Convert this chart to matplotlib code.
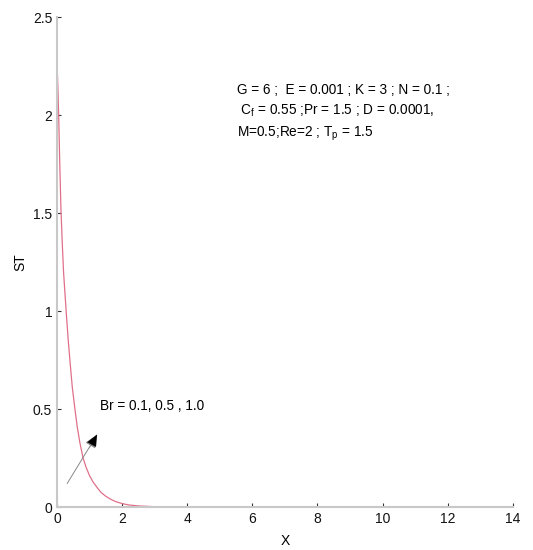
import matplotlib
matplotlib.use("Agg")
import matplotlib.pyplot as plt

plt.rcParams['font.family'] = ['Liberation Sans', 'DejaVu Sans']

x_vals = [0, 0.03, 0.05, 0.08, 0.12, 0.16, 0.2, 0.24, 0.28, 0.34, 0.4, 0.47, 0.55, 0.62, 0.7,
          0.8, 0.9, 1.0, 1.1, 1.23, 1.35, 1.5, 1.65, 1.8, 2.0, 2.2, 2.5, 3.0, 3.5, 4.0, 5.0,
          6.0, 8.0, 10.0, 12.0, 12.8]
st_vals = [2.27, 2.12, 2.0, 1.78, 1.52, 1.35, 1.2, 1.1, 1.0, 0.86, 0.74, 0.61, 0.5, 0.41, 0.33,
           0.25, 0.2, 0.16, 0.13, 0.1, 0.075, 0.055, 0.04, 0.028, 0.018, 0.011, 0.006, 0.002, 0.0008, 0.0003, 0,
           0, 0, 0, 0, 0]
xticks = [0, 2, 4, 6, 8, 10, 12, 14]
yticks = [0, 0.5, 1, 1.5, 2, 2.5]
ytick_labels = ['0', '0.5', '1', '1.5', '2', '2.5']

fig = plt.figure(figsize=(5.33, 5.5), dpi=100)
ax = fig.add_axes([0.107, 0.078, 0.855, 0.891])
ax.plot(x_vals, st_vals, color='#e0708a', lw=0.9)
ax.set_xlim(0, 14)
ax.set_ylim(0, 2.5)
ax.set_xticks(xticks)
ax.set_yticks(yticks)
ax.set_yticklabels(ytick_labels)
for s in ['top', 'right']:
    ax.spines[s].set_visible(False)
for s in ['left', 'bottom']:
    ax.spines[s].set_color('#c8c8c8')
    ax.spines[s].set_linewidth(1.5)
ax.tick_params(direction='in', length=3, width=0.8, color='#333333', labelsize=10, labelcolor='#111111')
ax.set_xlabel('X', fontsize=10, labelpad=6)
ax.set_ylabel('ST', fontsize=10, labelpad=4)

ax.text(5.53, 2.01, 'G = 6 ;  E = 0.001 ; K = 3 ; N = 0.1 ;\n'
        r' C$_\mathregular{f}$ = 0.55 ;Pr = 1.5 ; D = 0.0001,' '\n'
        r'M=0.5;Re=2 ; T$_\mathregular{p}$ = 1.5',
        fontsize=9.8, va='center', ha='left', linespacing=1.45)
ax.text(1.32, 0.515, 'Br = 0.1, 0.5 , 1.0', fontsize=9.8, va='center', ha='left')
ax.annotate('', xy=(1.23, 0.37), xytext=(0.31, 0.12),
            arrowprops=dict(arrowstyle='-|>,head_length=0.8,head_width=0.35', color='#888888', lw=0.7,
                            shrinkA=0, shrinkB=0))
ax.annotate('', xy=(1.23, 0.37), xytext=(1.0, 0.3),
            arrowprops=dict(arrowstyle='-|>,head_length=0.8,head_width=0.35', color='black', lw=0.1,
                            shrinkA=0, shrinkB=0))
fig.savefig('out.png', dpi=100)
